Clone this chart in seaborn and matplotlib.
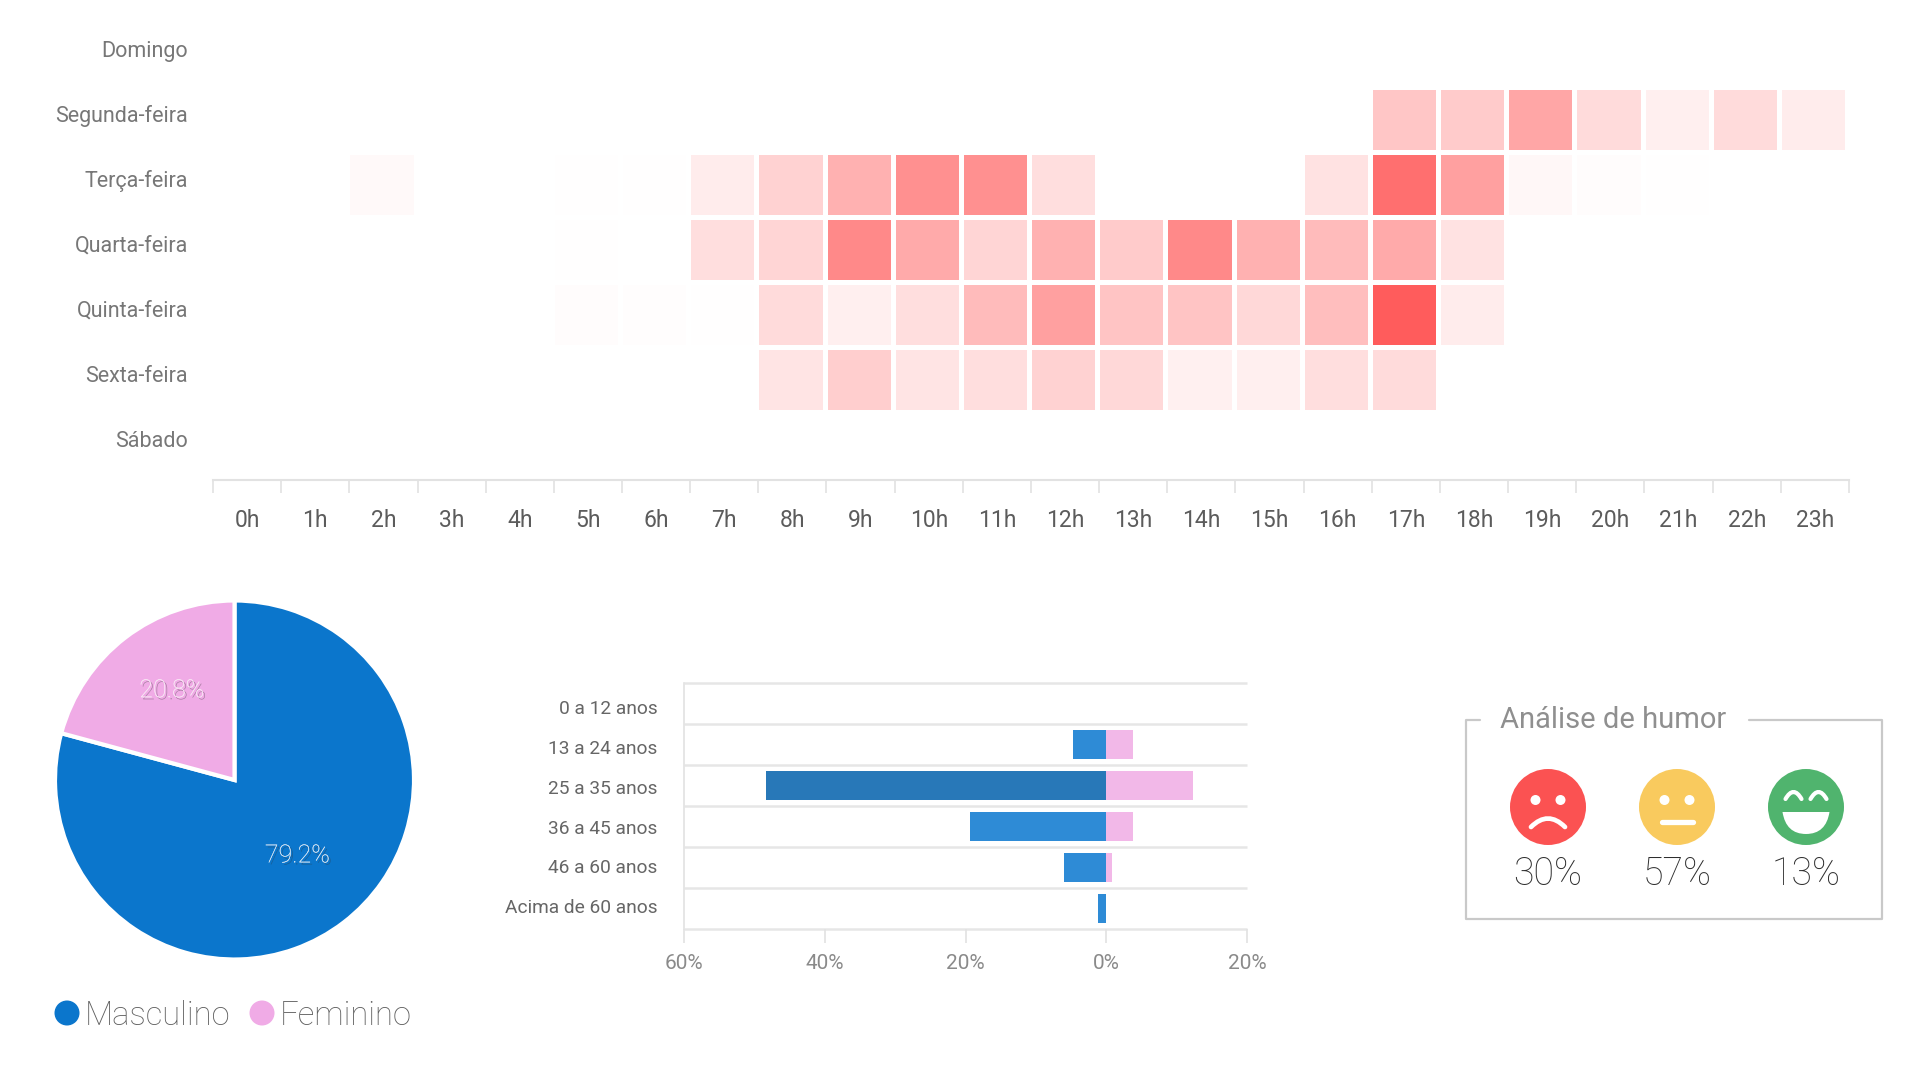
import numpy as np
import pandas as pd
import matplotlib
matplotlib.use("Agg")
import matplotlib.pyplot as plt
import matplotlib.patheffects as pe
from matplotlib.colors import LinearSegmentedColormap
from matplotlib.patches import Circle, PathPatch
from matplotlib.path import Path
import seaborn as sns

dias = ["Domingo", "Segunda-feira", "Terça-feira", "Quarta-feira", "Quinta-feira", "Sexta-feira", "Sábado"]
horas = [f"{h}h" for h in range(24)]
domingo = [0] * 24
segunda = [0, 0, 0, 0, 0, 0, 0, 0, 0, 0, 0, 0, 0, 0, 0, 0, 0, 35, 32, 55, 22, 10, 22, 12]
terca = [0, 0, 4, 0, 0, 0.5, 1, 12, 28, 48, 68, 68, 20, 0, 0, 0, 18, 88, 58, 5, 2, 0.5, 0, 0]
quarta = [0, 0, 0, 0, 0, 1, 0, 20, 26, 72, 52, 26, 48, 32, 72, 48, 42, 52, 18, 0, 0, 0, 0, 0]
quinta = [0, 0, 0, 0, 0, 2, 1.5, 1, 22, 10, 20, 42, 58, 36, 36, 24, 40, 100, 12, 0, 0, 0, 0, 0]
sexta = [0, 0, 0, 0, 0, 0, 0, 0, 17, 30, 17, 20, 28, 24, 9, 10, 20, 22, 0, 0, 0, 0, 0, 0]
sabado = [0] * 24

generos = ["Masculino", "Feminino"]
generos_pct = [79.2, 20.8]

faixas = ["0 a 12 anos", "13 a 24 anos", "25 a 35 anos", "36 a 45 anos", "46 a 60 anos", "Acima de 60 anos"]
masculino = [0, 4.7, 48.3, 19.4, 6.0, 1.2]
feminino = [0, 3.8, 12.3, 3.8, 0.8, 0]

humor_pct = [30, 57, 13]

AZUL = "#0b76cc"
ROSA = "#f0abe6"
W, H = 1920, 1078

sns.set_theme(style="white")
plt.rcParams["font.family"] = ["Roboto", "DejaVu Sans"]

fig = plt.figure(figsize=(W / 100, H / 100), dpi=100, facecolor="white")


def px_axes(x0, y0, x1, y1):
    # box given in image pixels, y going down
    return fig.add_axes([x0 / W, 1 - y1 / H, (x1 - x0) / W, (y1 - y0) / H])


# heatmap
ax = px_axes(213, 22, 1849, 480)
df = pd.DataFrame([domingo, segunda, terca, quarta, quinta, sexta, sabado], index=dias, columns=horas)
cmap = LinearSegmentedColormap.from_list("verm", ["#ffffff", "#ff5c5c"])
sns.heatmap(df, ax=ax, cmap=cmap, vmin=0, vmax=100, cbar=False, linewidths=2.2, linecolor="white")
ax.set_xlabel("")
ax.set_ylabel("")
for s in ["top", "left", "right"]:
    ax.spines[s].set_visible(False)
ax.spines["bottom"].set_visible(True)
ax.spines["bottom"].set_color("#e2e2e2")
ax.spines["bottom"].set_linewidth(1.5)
# cells sit a hair left of and above the axis ticks in the original
desvio = 0.027
ax.set_xlim(desvio, 24 + desvio)
ax.set_ylim(7.04, 0)
ax.set_xticks(np.arange(25) + desvio, labels=[""] * 25)
ax.set_xticks(np.arange(24) + 0.5 + desvio, labels=horas, minor=True)
ax.tick_params(axis="x", which="major", length=9, width=1.2, color="#e2e2e2", bottom=True)
ax.tick_params(axis="x", which="minor", length=0, pad=21, labelsize=16.5, labelcolor="#5c5c5c")
ax.set_yticks(np.arange(7) + 0.45, labels=dias, rotation=0)
ax.tick_params(axis="y", length=0, pad=18, labelsize=15.5, labelcolor="#777777")

# pie
ax_pie = px_axes(55, 600, 414, 960)
ax_pie.pie(generos_pct, colors=[AZUL, ROSA], startangle=90, counterclock=False, radius=1,
           wedgeprops={"edgecolor": "white", "linewidth": 3})
ax_pie.set_xlim(-1, 1)
ax_pie.set_ylim(-1, 1)
sombra = [pe.withSimplePatchShadow(offset=(1.5, -1.5), shadow_rgbFace="#333333", alpha=0.4), pe.Normal()]
ax_pie.text(0.35, -0.42, f"{generos_pct[0]}%", color="#d8e6f4", fontsize=18, ha="center", va="center",
            weight="light", path_effects=sombra)
ax_pie.text(-0.35, 0.5, f"{generos_pct[1]}%", color="#f8e6f4", fontsize=18, ha="center", va="center",
            weight="light", path_effects=sombra)

# age pyramid
ax_bar = px_axes(684, 683, 1247, 929)
df_bar = pd.DataFrame({"faixa": faixas * 2,
                       "valor": [-v for v in masculino] + feminino,
                       "genero": ["Masculino"] * 6 + ["Feminino"] * 6})
sns.barplot(data=df_bar, y="faixa", x="valor", hue="genero", dodge=False, orient="h", ax=ax_bar,
            palette={"Masculino": "#2e8bd6", "Feminino": "#f2b8e8"}, width=0.7, legend=False, saturation=1,
            linewidth=0)
for p in ax_bar.patches:
    # hovered row is darker in the original
    if p.get_width() < -40:
        p.set_facecolor("#2878b8")
ax_bar.set_xlim(-60, 20)
ax_bar.set_ylim(5.5, -0.5)
ax_bar.set_xlabel("")
ax_bar.set_ylabel("")
ax_bar.set_xticks([-60, -40, -20, 0, 20], labels=["60%", "40%", "20%", "0%", "20%"])
# labels sit on a slightly tighter pitch than the rows
ax_bar.set_yticks([0.09, 1.06, 2.03, 3.0, 3.97, 4.94], labels=faixas)
ax_bar.hlines(np.arange(7) - 0.5, -60, 20, color="#e6e6e6", lw=1.8, zorder=0, clip_on=False)
for s in ["top", "right", "bottom"]:
    ax_bar.spines[s].set_visible(False)
ax_bar.spines["left"].set_color("#e2e2e2")
ax_bar.spines["left"].set_linewidth(1.2)
ax_bar.tick_params(axis="x", length=10, width=1.2, color="#e2e2e2", bottom=True, pad=8,
                   labelsize=15, labelcolor="#8a8a8a")
ax_bar.tick_params(axis="y", length=0, pad=19, labelsize=13.8, labelcolor="#666666")

# overlay in image pixels for legend and mood box
ov = fig.add_axes([0, 0, 1, 1], facecolor="none")
ov.set_xlim(0, W)
ov.set_ylim(H, 0)
ov.axis("off")

ov.add_patch(Circle((67, 1013), 12.5, color=AZUL, lw=0))
ov.text(85, 1016, generos[0], fontsize=23.6, color="#5f5f5f", va="center", weight="light")
ov.add_patch(Circle((262, 1013), 12.5, color=ROSA, lw=0))
ov.text(280, 1016, generos[1], fontsize=23.6, color="#5f5f5f", va="center", weight="light")

LINHA = "#c9c9c9"
lw_box = 1.6
ov.plot([1480, 1466, 1466, 1882, 1882, 1749], [720, 720, 919, 919, 720, 720], color=LINHA, lw=lw_box)
ov.text(1500, 720, "Análise de humor", fontsize=21, color="#8f8f8f", va="center")

cx = [1548, 1677, 1806]
cy = 807
r = 38
cores = ["#fb5252", "#f9ca5e", "#50b46e"]
for x0, cor, pct in zip(cx, cores, humor_pct):
    ov.add_patch(Circle((x0, cy), r, color=cor, lw=0))
    ov.text(x0, 874, f"{pct}%", fontsize=27, color="#2e2e2e", ha="center", va="center", weight="light")

# sad
x0 = cx[0]
for dx in (-12.5, 12.5):
    ov.add_patch(Circle((x0 + dx, cy - 7), 5, color="white", lw=0))
ov.add_patch(PathPatch(Path([(x0 - 17, cy + 20), (x0, cy + 3), (x0 + 17, cy + 20)],
                            [Path.MOVETO, Path.CURVE3, Path.CURVE3]),
                       fc="none", ec="white", lw=3.4, capstyle="round"))
# neutral
x0 = cx[1]
for dx in (-12.5, 12.5):
    ov.add_patch(Circle((x0 + dx, cy - 7), 5, color="white", lw=0))
ov.plot([x0 - 15.5, x0 + 15.5], [cy + 15, cy + 15], color="white", lw=3.8, solid_capstyle="round")
# happy
x0 = cx[2]
for dx in (-12.5, 12.5):
    ov.add_patch(PathPatch(Path([(x0 + dx - 8, cy - 8), (x0 + dx, cy - 22), (x0 + dx + 8, cy - 8)],
                                [Path.MOVETO, Path.CURVE3, Path.CURVE3]),
                           fc="none", ec="white", lw=3, capstyle="round"))
ov.add_patch(PathPatch(Path([(x0 - 23.5, cy + 5), (x0 - 20, cy + 27), (x0, cy + 27), (x0 + 20, cy + 27),
                             (x0 + 23.5, cy + 5), (x0 - 23.5, cy + 5)],
                            [Path.MOVETO, Path.CURVE3, Path.CURVE3, Path.CURVE3, Path.CURVE3, Path.LINETO]),
                       fc="white", ec="none"))

fig.savefig("out.png", dpi=100, facecolor="white")
